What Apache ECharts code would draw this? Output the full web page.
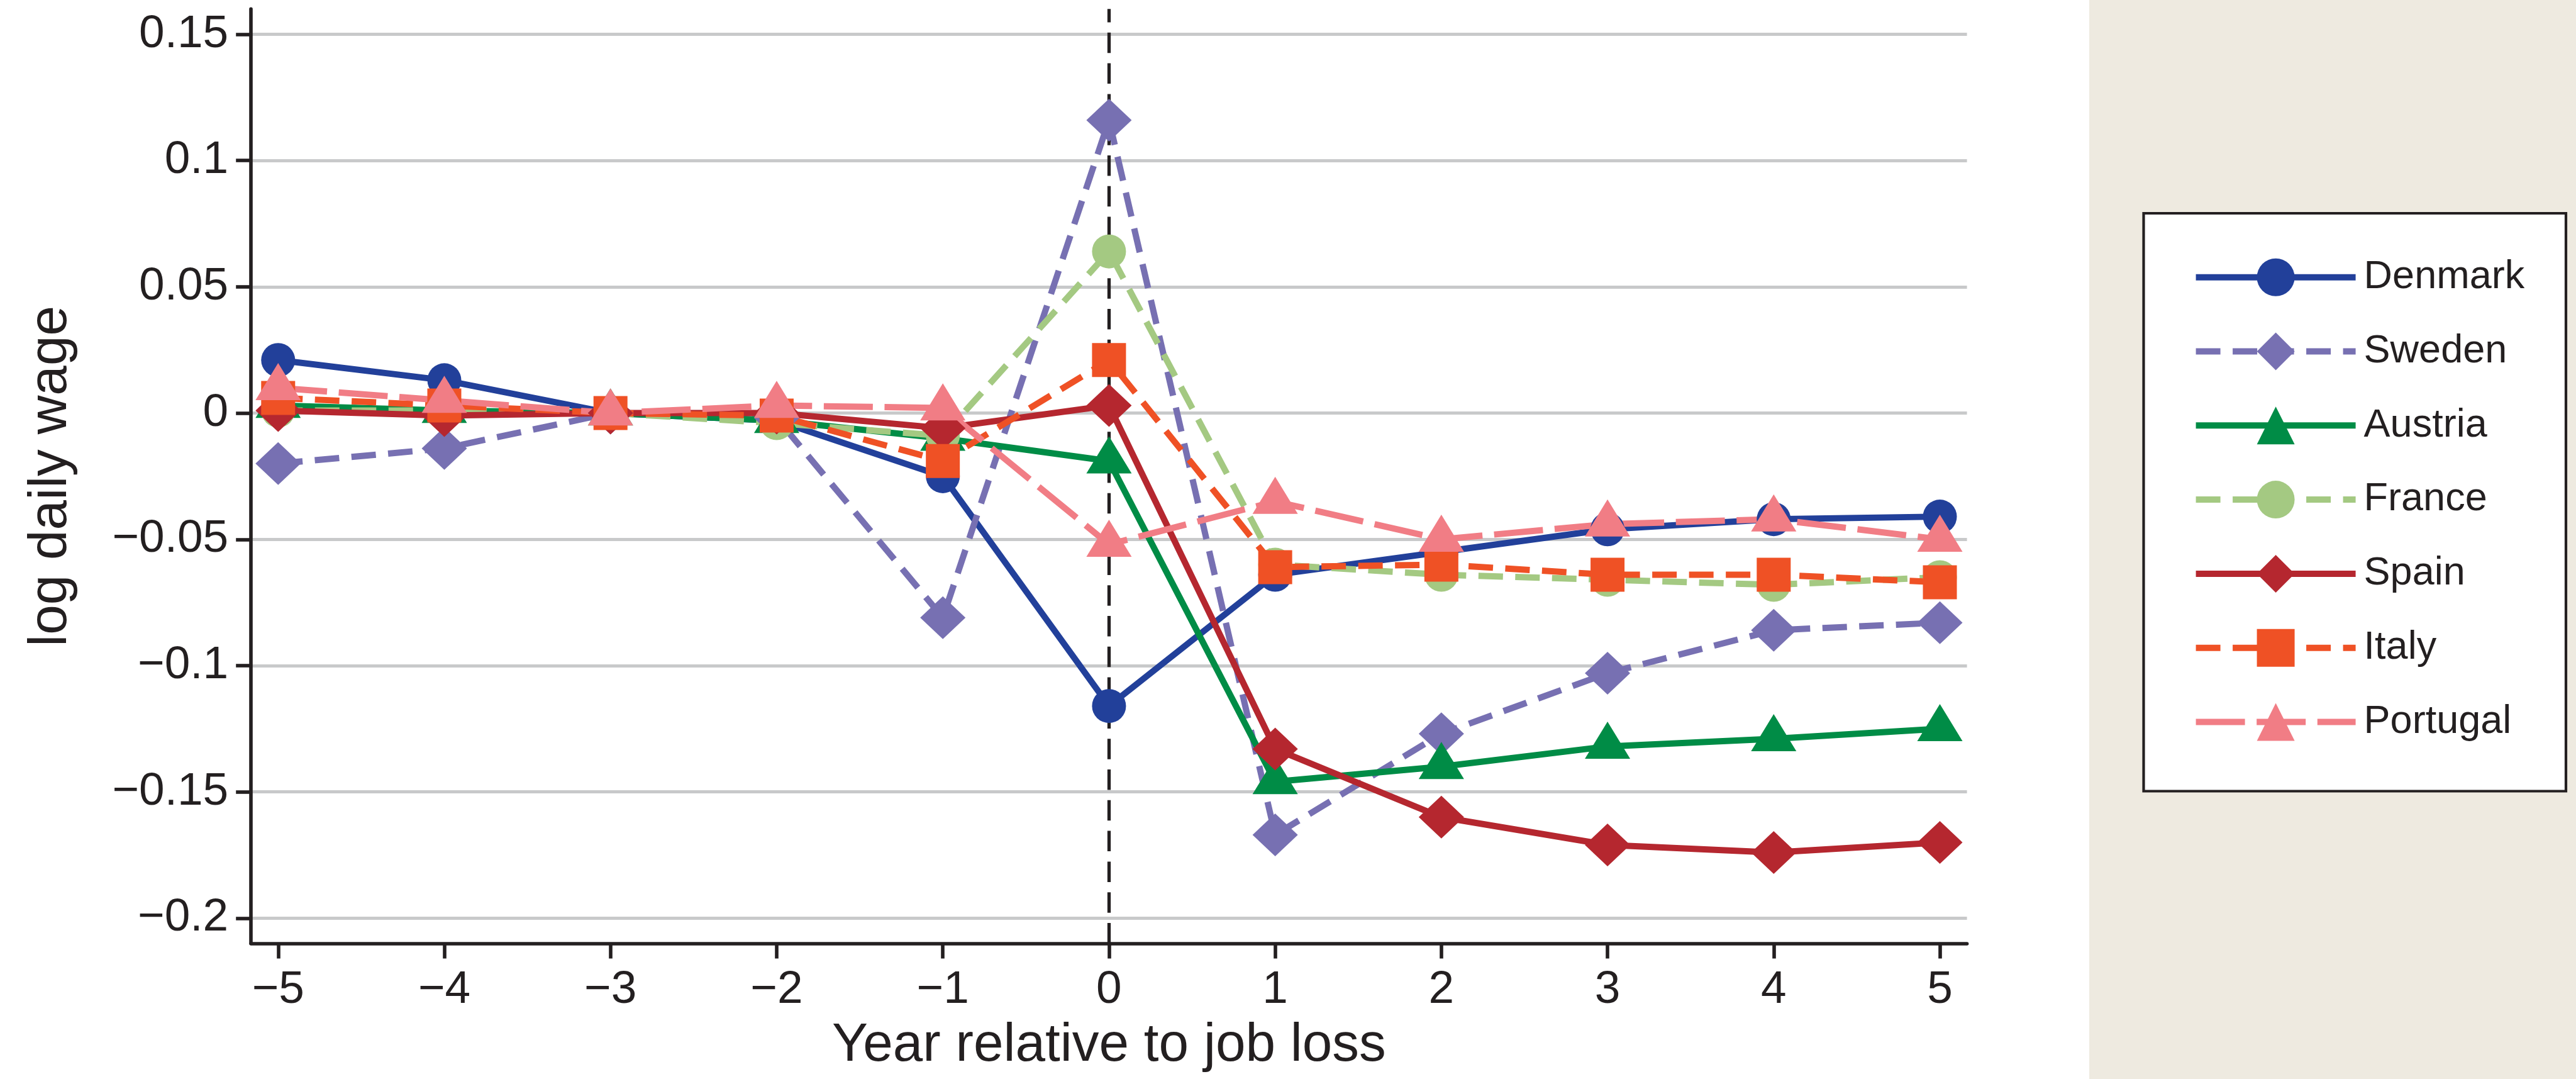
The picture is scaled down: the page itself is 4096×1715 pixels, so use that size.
<!DOCTYPE html>
<html><head><meta charset="utf-8">
<script src="https://cdn.jsdelivr.net/npm/echarts@6/dist/echarts.min.js"></script>
<style>html,body{margin:0;padding:0;background:#fff}#c{width:4096px;height:1715px}</style>
</head><body><div id="c"></div>
<script>
// ---- data ----
const years    = [-5, -4, -3, -2, -1, 0, 1, 2, 3, 4, 5];
const denmark  = [0.021, 0.013, 0, -0.003, -0.025, -0.116, -0.064, -0.055, -0.046, -0.042, -0.041];
const sweden   = [-0.020, -0.014, 0, -0.002, -0.081, 0.116, -0.167, -0.127, -0.103, -0.086, -0.083];
const austria  = [0.003, 0.001, 0, -0.003, -0.010, -0.019, -0.146, -0.140, -0.132, -0.129, -0.125];
const france   = [0.001, 0.001, 0, -0.004, -0.009, 0.064, -0.060, -0.064, -0.066, -0.068, -0.065];
const spain    = [0.001, -0.001, 0, 0.000, -0.006, 0.003, -0.133, -0.160, -0.171, -0.174, -0.170];
const italy    = [0.006, 0.003, 0, -0.001, -0.019, 0.021, -0.061, -0.060, -0.064, -0.064, -0.067];
const portugal = [0.010, 0.005, 0, 0.003, 0.002, -0.052, -0.035, -0.050, -0.044, -0.042, -0.050];
const countries = ['Denmark', 'Sweden', 'Austria', 'France', 'Spain', 'Italy', 'Portugal'];
const xTicks = [-5, -4, -3, -2, -1, 0, 1, 2, 3, 4, 5];
const yTicks = [-0.2, -0.15, -0.1, -0.05, 0, 0.05, 0.1, 0.15];
const jobLossYear = 0;

// ---- styling ----
const FONT = "'Liberation Sans', Arial, Helvetica, sans-serif";
const INK = '#231f20';
const LW = 10;
const fmt = v => (v < 0 ? '\u2212' : '') + String(Math.abs(v));
const pairs = arr => years.map((x, i) => [x, arr[i]]);

const styles = [
  { name: 'Denmark',  data: denmark,  color: '#22409a', type: 'solid', symbol: 'circle',   size: 54 },
  { name: 'Sweden',   data: sweden,   color: '#7770b2', type: [39, 19.5], symbol: 'diamond', size: [72, 68] },
  { name: 'Austria',  data: austria,  color: '#008c46', type: 'solid', symbol: 'triangle', size: [72, 59], offset: [0, -9.8] },
  { name: 'France',   data: france,   color: '#a4c982', type: [39, 19.5], symbol: 'circle', size: 54 },
  { name: 'Spain',    data: spain,    color: '#b5272f', type: 'solid', symbol: 'diamond',  size: [72, 68] },
  { name: 'Italy',    data: italy,    color: '#ef5125', type: [39, 19.5], symbol: 'rect',   size: 54 },
  { name: 'Portugal', data: portugal, color: '#f17d85', type: [78, 18.6], symbol: 'triangle', size: [72, 59], offset: [0, -9.8] }
];

const series = styles.map(s => ({
  name: s.name,
  type: 'line',
  z: 3,
  data: pairs(s.data),
  symbol: s.symbol,
  symbolSize: s.size,
  symbolOffset: s.offset || [0, 0],
  showSymbol: true,
  showAllSymbol: true,
  itemStyle: { color: s.color, borderWidth: 0 },
  lineStyle: { color: s.color, width: LW, type: s.type, cap: 'butt' },
  emphasis: { disabled: true },
  animation: false
}));

// vertical dashed reference line at the job-loss year
series.unshift({
  name: 'ref',
  type: 'line',
  z: 1,
  data: [[jobLossYear, 0]],
  symbol: 'none',
  lineStyle: { opacity: 0 },
  silent: true,
  animation: false,
  markLine: {
    z: 1,
    silent: true,
    symbol: 'none',
    animation: false,
    label: { show: false },
    lineStyle: { color: INK, width: 5.3, type: [32.5, 16.3] },
    emphasis: { disabled: true },
    data: [{ xAxis: jobLossYear }]
  }
});

const chart = echarts.init(document.getElementById('c'), null, { renderer: 'canvas' });
chart.setOption({
  backgroundColor: '#ffffff',
  animation: false,
  textStyle: { fontFamily: FONT },
  graphic: [
    { type: 'rect', z: 0, silent: true, shape: { x: 3322, y: 0, width: 774, height: 1715 }, style: { fill: '#eeeae0' } },
    { type: 'rect', z: 1, silent: true, shape: { x: 3408.5, y: 339, width: 671.5, height: 918.5 }, style: { fill: '#ffffff', stroke: INK, lineWidth: 4.2 } }
  ],
  grid: { left: 399.2, right: 968.4, top: 14.3, bottom: 215.5, containLabel: false },
  legend: {
    data: countries,
    orient: 'vertical',
    left: 3486.6,
    top: 409.2,
    padding: 0,
    itemWidth: 254,
    itemHeight: 75,
    itemGap: 54.8,
    selectedMode: false,
    lineStyle: { width: LW },
    textStyle: { fontFamily: FONT, fontSize: 63, color: INK, padding: [0, 0, 0, 8] }
  },
  xAxis: {
    type: 'value',
    min: -5.163,
    max: 5.163,
    name: 'Year relative to job loss',
    nameLocation: 'middle',
    nameGap: 120,
    nameTextStyle: { fontFamily: FONT, fontSize: 85.5, color: INK },
    axisLine: { show: true, onZero: false, lineStyle: { color: INK, width: 5.6 } },
    axisTick: { show: true, customValues: xTicks, length: 24, inside: false, lineStyle: { color: INK, width: 5.6 } },
    axisLabel: { customValues: xTicks, formatter: fmt, fontFamily: FONT, fontSize: 73, color: INK, margin: 38 },
    splitLine: { show: false }
  },
  yAxis: {
    type: 'value',
    min: -0.21,
    max: 0.16,
    name: 'log daily wage',
    nameLocation: 'middle',
    nameGap: 275,
    nameTextStyle: { fontFamily: FONT, fontSize: 85.5, color: INK },
    axisLine: { show: true, onZero: false, lineStyle: { color: INK, width: 5.6 } },
    axisTick: { show: true, customValues: yTicks, length: 24, inside: false, lineStyle: { color: INK, width: 5.6 } },
    axisLabel: { customValues: yTicks, formatter: fmt, fontFamily: FONT, fontSize: 73, color: INK, margin: 36 },
    splitLine: { show: true, lineStyle: { color: '#c8c9ca', width: 4.9 } }
  },
  series: series
});
</script>
</body></html>
